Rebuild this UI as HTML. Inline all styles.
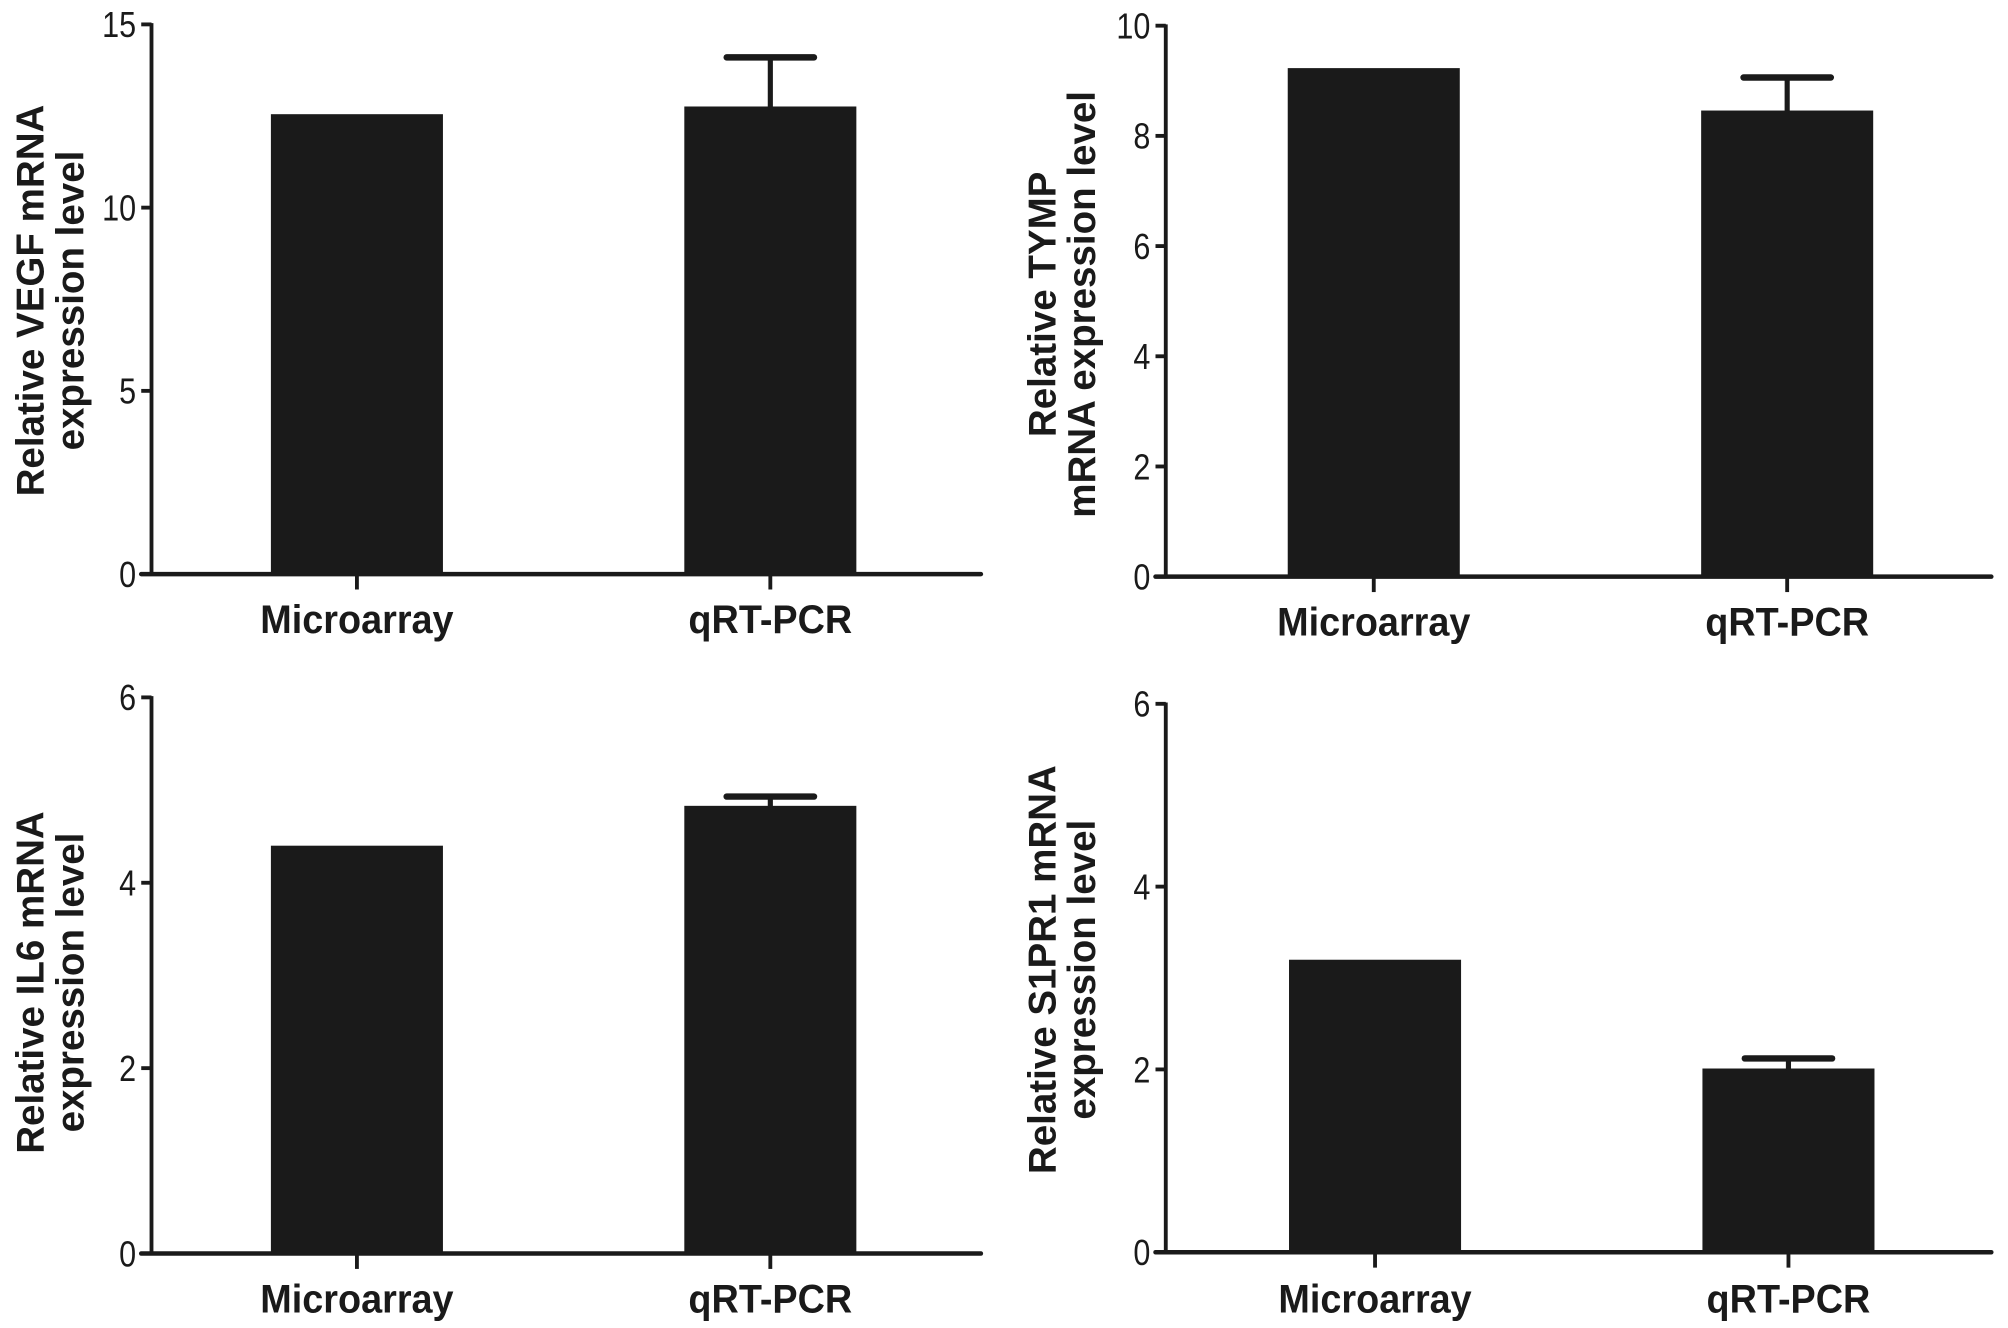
<!DOCTYPE html>
<html><head><meta charset="utf-8"><style>
html,body{margin:0;padding:0;background:#fff;}
svg{display:block;}
text{font-family:"Liberation Sans",sans-serif;fill:#1a1a1a;}
</style></head>
<body>
<svg id="fig" width="2008" height="1328" viewBox="0 0 1564 1034" preserveAspectRatio="none" xmlns="http://www.w3.org/2000/svg"></svg>
<script>
const categories = ["Microarray", "qRT-PCR"];
const vegfValues = [12.55, 12.76];
const vegfErrors = [0, 1.34];
const vegfTicks = [0, 5, 10, 15];
const tympValues = [9.23, 8.46];
const tympErrors = [0, 0.6];
const tympTicks = [0, 2, 4, 6, 8, 10];
const il6Values = [4.40, 4.83];
const il6Errors = [0, 0.1];
const il6Ticks = [0, 2, 4, 6];
const s1pr1Values = [3.20, 2.01];
const s1pr1Errors = [0, 0.11];
const s1pr1Ticks = [0, 2, 4, 6];

const NS = "http://www.w3.org/2000/svg";
const svg = document.getElementById('fig');
function mk(tag, attrs, parent, text) {
  const e = document.createElementNS(NS, tag);
  for (const k in attrs) e.setAttribute(k, attrs[k]);
  if (text !== undefined) e.textContent = text;
  parent.appendChild(e);
  return e;
}

const panels = [
  {id:'vegf', ax:118, top:19, zero:447, right:764, values:vegfValues, errors:vegfErrors, ticks:vegfTicks, ymax:15, title:["Relative VEGF mRNA","expression level"], tx:34, ty:234, bars:[211,533], labY:482},
  {id:'tymp', ax:908, top:20, zero:449, right:1551, values:tympValues, errors:tympErrors, ticks:tympTicks, ymax:10, title:["Relative TYMP","mRNA expression level"], tx:822, ty:237, bars:[1003,1325], labY:484},
  {id:'il6', ax:118, top:543, zero:976, right:764, values:il6Values, errors:il6Errors, ticks:il6Ticks, ymax:6, title:["Relative IL6 mRNA","expression level"], tx:34, ty:765, bars:[211,533], labY:1011},
  {id:'s1pr1', ax:908, top:548, zero:975, right:1551, values:s1pr1Values, errors:s1pr1Errors, ticks:s1pr1Ticks, ymax:6, title:["Relative S1PR1 mRNA","expression level"], tx:822, ty:755, bars:[1004,1326], labY:1011}
];
const barW = 134;

panels.forEach(p => {
  const g = mk('g', {}, svg);
  
  
  const y = v => p.zero - (v / p.ymax) * (p.zero - p.top);

  categories.forEach((c, i) => {
    const x0 = p.bars[i];
    const yv = y(p.values[i]);
    const r = mk('rect', {x:x0, y:yv, width:barW, height:p.zero - yv, fill:'#1a1a1a'}, g);
    
    
    if (p.errors[i] > 0) {
      const cx = x0 + barW / 2;
      const ye = y(p.values[i] + p.errors[i]);
      const eg = mk('g', {stroke:'#1a1a1a', 'stroke-width':4, 'stroke-linecap':'round'}, g);
      
      
      mk('line', {x1:cx, x2:cx, y1:yv, y2:ye}, eg);
      mk('line', {x1:cx - 34, x2:cx + 34, y1:ye, y2:ye, 'stroke-width':5}, eg);
    }
    const cx = x0 + barW / 2;
    const t = mk('line', {x1:cx, x2:cx, y1:p.zero, y2:p.zero + 12, stroke:'#1a1a1a', 'stroke-width':3}, g);
    
    
    const lab = mk('text', {x:0, y:0, 'font-size':31, 'font-weight':'bold', 'text-anchor':'middle', transform:`translate(${cx},${p.labY + 11}) scale(0.95,1)`}, g, c);
    
    
  });

  const ya = mk('line', {x1:p.ax, x2:p.ax, y1:p.top - 1, y2:p.zero + 1, stroke:'#1a1a1a', 'stroke-width':3}, g);
  
  
  const xa = mk('line', {x1:p.ax - 8, x2:p.right, y1:p.zero, y2:p.zero, stroke:'#1a1a1a', 'stroke-width':3.5, 'stroke-linecap':'round'}, g);
  
  

  p.ticks.forEach(v => {
    const ty = y(v);
    const tk = mk('line', {x1:p.ax - 8, x2:p.ax, y1:ty, y2:ty, stroke:'#1a1a1a', 'stroke-width':3}, g);
    
    
    const tl = mk('text', {x:0, y:0, 'font-size':28, 'text-anchor':'end', transform:`translate(${p.ax - 12},${ty + 10}) scale(0.85,1)`}, g, String(v));
    
    
  });

  const tt = mk('text', {x:0, y:0, 'font-size':30, 'font-weight':'bold', 'text-anchor':'middle', transform:`translate(${p.tx},${p.ty}) rotate(-90)`}, g);
  
  
  mk('tspan', {x:0, dy:0}, tt, p.title[0]);
  mk('tspan', {x:0, dy:31}, tt, p.title[1]);
});
</script>
</body></html>
